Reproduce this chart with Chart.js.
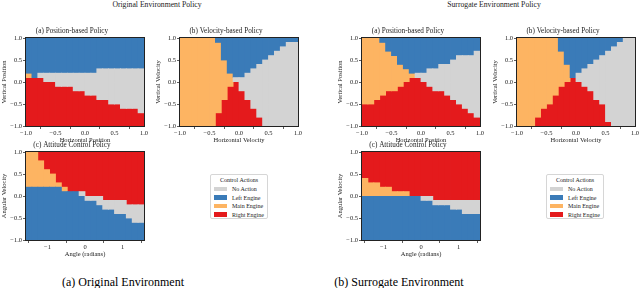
<!DOCTYPE html>
<html>
<head>
<meta charset="utf-8">
<script src="https://cdn.jsdelivr.net/npm/chart.js@4.4.0/dist/chart.umd.min.js"></script>
<style>
  body { margin: 0; background: #fff; }
  #fig { position: relative; width: 640px; height: 288px; overflow: hidden; font-family: "Liberation Serif", serif; color: #222; }
  #fig canvas { position: absolute; }
  .txt { position: absolute; white-space: nowrap; transform: translateX(-50%); }
  .sup { top: 0; font-size: 7.7px; line-height: 9px; }
  .cap { top: 275px; font-size: 12px; line-height: 14px; color: #000; }
  .legend { position: absolute; width: 58px; height: 45px; box-sizing: border-box; border: 1px solid #d6d6d6; border-radius: 2px; background: #fff; font-size: 6px; }
  .legend .lt { position: absolute; left: 0; width: 100%; top: 1px; text-align: center; line-height: 8px; }
  .legend .sw { position: absolute; left: 3px; width: 13px; height: 4.5px; }
  .legend .lb { position: absolute; left: 21px; line-height: 8px; white-space: nowrap; }
</style>
</head>
<body>
<div id="fig">
  <div class="txt sup" style="left:157px">Original Environment Policy</div>
  <div class="txt sup" style="left:494px">Surrogate Environment Policy</div>
  <div class="txt cap" style="left:123px">(a) Original Environment</div>
  <div class="txt cap" style="left:399px">(b) Surrogate Environment</div>
</div>
<script>
// Actions
const actionCodes = ["N", "L", "M", "R"];
const actionNames = ["No Action", "Left Engine", "Main Engine", "Right Engine"];

// Tick values and labels
const unitRange = [-1, 1];
const angleRange = [-Math.PI / 2, Math.PI / 2];
const unitTicks = [-1, -0.5, 0, 0.5, 1];
const unitTickLabels = ["−1.0", "−0.5", "0.0", "0.5", "1.0"];
const angleTicks = [-1, 0, 1];
const angleTickLabels = ["−1", "0", "1"];

// Policy grids, top row = highest y value, left column = lowest x value
const origPos = [
  "LLLLLLLLLLLLLLLLLLLL",
  "LLLLLLLLLLLLLLLLLLLL",
  "LLLLLLLLLLLLLLLLLLLL",
  "LLLLLLLLLLLLLLLLLLLL",
  "LLLLLLLLLLLLLLLLLLLL",
  "LLLLLLLLLLLLLLLLLLLL",
  "LLLLLLLLLLLLLLLLLLLL",
  "LLLLLLLLLLLLNNNNNNNN",
  "MLNNNNNNNNNNNNNNNNNN",
  "RRRNNNNNNNNNNNNNNNNN",
  "RRRRRNNNNNNNNNNNNNNN",
  "RRRRRRRRNNNNNNNNNNNN",
  "RRRRRRRRRRNNNNNNNNNN",
  "RRRRRRRRRRRRNNNNNNNN",
  "RRRRRRRRRRRRRRNNNNNN",
  "RRRRRRRRRRRRRRRRNNNN",
  "RRRRRRRRRRRRRRRRRRRN",
  "RRRRRRRRRRRRRRRRRRRR",
  "RRRRRRRRRRRRRRRRRRRR",
  "RRRRRRRRRRRRRRRRRRRR"
];
const origVel = [
  "MMMMMMLLLLLLLLLLLLLL",
  "MMMMMMMLLLLLLLLLLLNN",
  "MMMMMMMLLLLLLLLLLNNN",
  "MMMMMMMLLLLLLLLLNNNN",
  "MMMMMMMLLLLLLLLNNNNN",
  "MMMMMMMMLLLLLLNNNNNN",
  "MMMMMMMMLLLLLNNNNNNN",
  "MMMMMMMMLLLLNNNNNNNN",
  "MMMMMMMMMLLNNNNNNNNN",
  "MMMMMMMMMNNNNNNNNNNN",
  "MMMMMMMMMRNNNNNNNNNN",
  "MMMMMMMMRRNNNNNNNNNN",
  "MMMMMMMMRRRNNNNNNNNN",
  "MMMMMMMMRRRNNNNNNNNN",
  "MMMMMMMRRRRRNNNNNNNN",
  "MMMMMMMRRRRRNNNNNNNN",
  "MMMMMMMRRRRRRNNNNNNN",
  "MMMMMMRRRRRRRNNNNNNN",
  "MMMMMMRRRRRRRRNNNNNN",
  "MMMMMMRRRRRRRRNNNNNN"
];
const origAtt = [
  "MMRRRRRRRRRRRRRRRRRR",
  "MMRRRRRRRRRRRRRRRRRR",
  "MMMRRRRRRRRRRRRRRRRR",
  "MMMRRRRRRRRRRRRRRRRR",
  "MMMMRRRRRRRRRRRRRRRR",
  "MMMMMRRRRRRRRRRRRRRR",
  "MMMMMRRRRRRRRRRRRRRR",
  "MMMMMMRRRRRRRRRRRRRR",
  "LLLLLLMRRRRRRRRRRRRR",
  "LLLLLLLLLNRRRRRRRRRR",
  "LLLLLLLLLLNNNRRRRRRR",
  "LLLLLLLLLLLLNNNNNRRR",
  "LLLLLLLLLLLLLNNNNNNN",
  "LLLLLLLLLLLLLLLNNNNN",
  "LLLLLLLLLLLLLLLLLNNN",
  "LLLLLLLLLLLLLLLLLLNN",
  "LLLLLLLLLLLLLLLLLLLL",
  "LLLLLLLLLLLLLLLLLLLL",
  "LLLLLLLLLLLLLLLLLLLL",
  "LLLLLLLLLLLLLLLLLLLL"
];
const surrPos = [
  "MMMLLLLLLLLLLLLLLLLL",
  "MMMMLLLLLLLLLLLLLLLL",
  "MMMMLLLLLLLLLLLLLLLL",
  "MMMMMLLLLLLLLLLLLLLN",
  "MMMMMMLLLLLLLLLLNNNN",
  "MMMMMMLLLLLLLLLNNNNN",
  "MMMMMMMLLLLLLNNNNNNN",
  "MMMMMMMMLLLNNNNNNNNN",
  "MMMMMMMMMNNNNNNNNNNN",
  "MMMMMMMMRRNNNNNNNNNN",
  "MMMMMMMRRRRNNNNNNNNN",
  "MMMMMMRRRRRRNNNNNNNN",
  "MMMMRRRRRRRRRRNNNNNN",
  "MMMRRRRRRRRRRRRNNNNN",
  "MMRRRRRRRRRRRRRRNNNN",
  "RRRRRRRRRRRRRRRRRNNN",
  "RRRRRRRRRRRRRRRRRRNN",
  "RRRRRRRRRRRRRRRRRRRN",
  "RRRRRRRRRRRRRRRRRRRR",
  "RRRRRRRRRRRRRRRRRRRR"
];
const surrVel = [
  "MMMMMMMLLLLLLLLLLLNN",
  "MMMMMMMLLLLLLLLLLNNN",
  "MMMMMMMLLLLLLLLLNNNN",
  "MMMMMMMMLLLLLLLNNNNN",
  "MMMMMMMMLLLLLLNNNNNN",
  "MMMMMMMMLLLLLNNNNNNN",
  "MMMMMMMMMLLLNNNNNNNN",
  "MMMMMMMMMLLNNNNNNNNN",
  "MMMMMMMMMLNNNNNNNNNN",
  "MMMMMMMMMRNNNNNNNNNN",
  "MMMMMMMMRRRNNNNNNNNN",
  "MMMMMMMRRRRRNNNNNNNN",
  "MMMMMMMRRRRRRNNNNNNN",
  "MMMMMMRRRRRRRNNNNNNN",
  "MMMMMMRRRRRRRRNNNNNN",
  "MMMMMRRRRRRRRRRNNNNN",
  "MMMMRRRRRRRRRRRNNNNN",
  "MMMMRRRRRRRRRRRNNNNN",
  "MMMRRRRRRRRRRRRNNNNN",
  "MMMRRRRRRRRRRRRRNNNN"
];
const surrAtt = [
  "RRRRRRRRRRRRRRRRRRRR",
  "RRRRRRRRRRRRRRRRRRRR",
  "RRRRRRRRRRRRRRRRRRRR",
  "RRRRRRRRRRRRRRRRRRRR",
  "RRRRRRRRRRRRRRRRRRRR",
  "RRRRRRRRRRRRRRRRRRRR",
  "MRRRRRRRRRRRRRRRRRRR",
  "MMMRRRRRRRRRRRRRRRRR",
  "MMMMMRRRRRRRRRRRRRRR",
  "MMMMMMMMRRRRRRRRRRRR",
  "LLLLLLLLLLNNRRRRRRRR",
  "LLLLLLLLLLLLNNNNNNNN",
  "LLLLLLLLLLLLLLLNNNNN",
  "LLLLLLLLLLLLLLLLLNNN",
  "LLLLLLLLLLLLLLLLLLLL",
  "LLLLLLLLLLLLLLLLLLLL",
  "LLLLLLLLLLLLLLLLLLLL",
  "LLLLLLLLLLLLLLLLLLLL",
  "LLLLLLLLLLLLLLLLLLLL",
  "LLLLLLLLLLLLLLLLLLLL"
];

// Styles and layout
const FONT = "Liberation Serif";
const actionColors = { N: "#d3d3d3", L: "#3a7bb8", M: "#fdb462", R: "#e41a1c" };
const AXIS_W = 26, PLOT_W = 118, PLOT_H = 88, PAD_R = 8, TITLE_H = 11, XAXIS_H = 19;

const panels = [
  { grid: origPos, left: 26, top: 38, angle: false, title: "(a) Position-based Policy", xTitle: "Horizontal Position", yTitle: "Vertical Position" },
  { grid: origVel, left: 180, top: 38, angle: false, title: "(b) Velocity-based Policy", xTitle: "Horizontal Velocity", yTitle: "Vertical Velocity" },
  { grid: origAtt, left: 26, top: 152, angle: true, title: "(c) Attitude Control Policy", xTitle: "Angle (radians)", yTitle: "Angular Velocity" },
  { grid: surrPos, left: 362, top: 38, angle: false, title: "(a) Position-based Policy", xTitle: "Horizontal Position", yTitle: "Vertical Position" },
  { grid: surrVel, left: 517, top: 38, angle: false, title: "(b) Velocity-based Policy", xTitle: "Horizontal Velocity", yTitle: "Vertical Velocity" },
  { grid: surrAtt, left: 362, top: 152, angle: true, title: "(c) Attitude Control Policy", xTitle: "Angle (radians)", yTitle: "Angular Velocity" }
];
const legendSpots = [[210, 174], [546, 174]];

// Turn a grid into floating bars, one bar per vertical run of one action
function buildDatasets(rows, xr) {
  const nx = rows[0].length, ny = rows.length;
  const dx = (xr[1] - xr[0]) / nx, dy = 2 / ny;
  return actionCodes.map((code, k) => {
    const data = [];
    for (let c = 0; c < nx; c++) {
      let r = 0;
      while (r < ny) {
        if (rows[r][c] === code) {
          let r2 = r;
          while (r2 < ny && rows[r2][c] === code) r2++;
          data.push({ x: xr[0] + (c + 0.5) * dx, y: [1 - r2 * dy, 1 - r * dy] });
          r = r2;
        } else r++;
      }
    }
    return {
      label: actionNames[k], data,
      backgroundColor: actionColors[code],
      grouped: false, barPercentage: 1, categoryPercentage: 1,
      borderWidth: 0, inflateAmount: 0.4
    };
  });
}

// Frame around plot area
const framePlugin = {
  id: "frame",
  afterDraw(chart) {
    const { ctx, chartArea: a } = chart;
    ctx.save();
    ctx.strokeStyle = "#222";
    ctx.lineWidth = 1;
    ctx.strokeRect(a.left - 0.5, a.top - 0.5, a.width + 1, a.height + 1);
    ctx.restore();
  }
};

const gridStyle = { color: "rgba(255,255,255,0.28)", lineWidth: 0.8, tickColor: "#333", tickWidth: 0.8, tickLength: 3, drawTicks: true };
const tickFont = { family: FONT, size: 6.5 };
const titleFont = { family: FONT, size: 6.5, lineHeight: "8px" };

const fig = document.getElementById("fig");

function makePanel(p) {
  const cv = document.createElement("canvas");
  cv.width = AXIS_W + PLOT_W + PAD_R;
  cv.height = TITLE_H + PLOT_H + XAXIS_H;
  cv.style.left = (p.left - AXIS_W) + "px";
  cv.style.top = (p.top - TITLE_H) + "px";
  fig.appendChild(cv);

  const xr = p.angle ? angleRange : unitRange;
  const xt = p.angle ? angleTicks : unitTicks;
  const xl = p.angle ? angleTickLabels : unitTickLabels;

  new Chart(cv, {
    type: "bar",
    data: { datasets: buildDatasets(p.grid, xr) },
    options: {
      responsive: false,
      animation: false,
      devicePixelRatio: 1,
      layout: { padding: { left: 0, top: 0, right: PAD_R, bottom: 0 } },
      plugins: {
        legend: { display: false },
        tooltip: { enabled: false },
        title: {
          display: true, text: p.title, color: "#222",
          font: { family: FONT, size: 7.2, weight: "normal", lineHeight: "9px" },
          padding: { top: 0, bottom: 2 }
        }
      },
      scales: {
        x: {
          type: "linear", min: xr[0], max: xr[1], offset: false, z: 1,
          afterBuildTicks: s => { s.ticks = xt.map(v => ({ value: v })); },
          afterFit: s => { s.height = XAXIS_H; },
          grid: gridStyle,
          border: { display: false },
          ticks: { callback: (v, i) => xl[i], color: "#222", font: tickFont, padding: 0, maxRotation: 0, autoSkip: false },
          title: { display: true, text: p.xTitle, color: "#222", font: titleFont, padding: { top: 0, bottom: 1 } }
        },
        y: {
          type: "linear", min: -1, max: 1, z: 1,
          afterBuildTicks: s => { s.ticks = unitTicks.map(v => ({ value: v })); },
          afterFit: s => { s.width = AXIS_W; },
          grid: gridStyle,
          border: { display: false },
          ticks: { callback: (v, i) => unitTickLabels[i], color: "#222", font: tickFont, padding: 1, autoSkip: false },
          title: { display: true, text: p.yTitle, color: "#222", font: titleFont, padding: { top: 0, bottom: 0 } }
        }
      }
    },
    plugins: [framePlugin]
  });
}

panels.forEach(makePanel);

// Legends
legendSpots.forEach(([lx, ly]) => {
  const box = document.createElement("div");
  box.className = "legend";
  box.style.left = lx + "px";
  box.style.top = ly + "px";
  let html = '<div class="lt">Control Actions</div>';
  actionCodes.forEach((code, k) => {
    const y = 10 + k * 8.5;
    html += `<div class="sw" style="top:${y + 1.7}px;background:${actionColors[code]}"></div>`;
    html += `<div class="lb" style="top:${y}px">${actionNames[k]}</div>`;
  });
  box.innerHTML = html;
  fig.appendChild(box);
});
</script>
</body>
</html>
